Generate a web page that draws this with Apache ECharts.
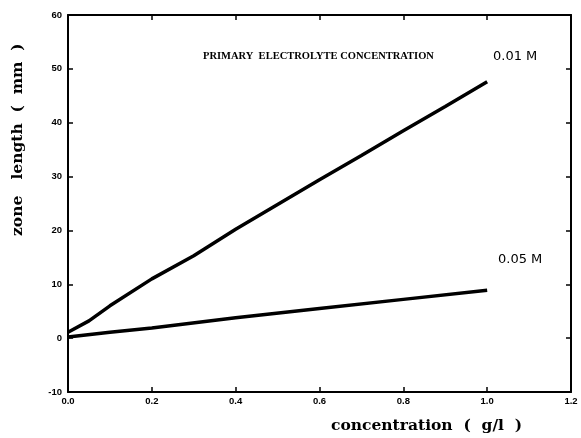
<!DOCTYPE html>
<html>
<head>
<meta charset="utf-8">
<script src="https://cdn.jsdelivr.net/npm/echarts@6/dist/echarts.min.js"></script>
<style>
  html, body { margin: 0; padding: 0; background: #fff; }
  #main { width: 581px; height: 438px; }
</style>
</head>
<body>
<div id="main"></div>
<script>
(function () {
var myChart = echarts.init(document.getElementById("main"));

// concentration (g/l) vs zone length (mm)
var conc01 = [[0, 1.1], [0.05, 3.2], [0.1, 6], [0.2, 11], [0.3, 15.3], [0.4, 20.2], [0.5, 24.8], [0.6, 29.4], [0.7, 33.9], [0.8, 38.5], [0.9, 43], [1.0, 47.6]];
var conc05 = [[0, 0.2], [0.1, 1.1], [0.2, 1.9], [0.4, 3.8], [0.6, 5.5], [0.8, 7.2], [1.0, 8.9]];

var xTicks = ["0.0", "0.2", "0.4", "0.6", "0.8", "1.0", "1.2"];
var seriesNames = ["0.01 M", "0.05 M"];
var titleText = "PRIMARY  ELECTROLYTE CONCENTRATION";

var tickFont = { color: '#000', fontSize: 9.5, fontFamily: 'Liberation Sans', fontWeight: 'bold' };

option = {
    backgroundColor: '#fff',
    animation: false,
    grid: { left: 68, right: 10, top: 15, bottom: 46 },
    graphic: [
        { type: 'text', x: 203, y: 51, style: { text: titleText, font: 'bold 10.5px "Liberation Serif"', fill: '#000' } },
        { type: 'text', x: 493, y: 50, style: { text: seriesNames[0], font: '13px "DejaVu Sans"', fill: '#000' } },
        { type: 'text', x: 498, y: 253, style: { text: seriesNames[1], font: '13px "DejaVu Sans"', fill: '#000' } },
        { type: 'text', x: 331, y: 418, style: { text: 'concentration  (  g/l  )', font: 'bold 15.5px "DejaVu Serif"', fill: '#000' } },
        { type: 'text', x: 10, y: 236, rotation: Math.PI / 2, style: { text: 'zone   length  (  mm  )', font: 'bold 15.5px "DejaVu Serif"', fill: '#000', verticalAlign: 'top' } }
    ],
    xAxis: [{
        type: 'value', min: 0, max: 1.2, interval: 0.2,
        axisLine: { show: true, onZero: false, lineStyle: { color: '#000', width: 2 } },
        axisTick: { show: true, inside: true, length: 5, lineStyle: { color: '#000', width: 1.5 } },
        axisLabel: Object.assign({ margin: 4, formatter: function (v) { return xTicks[Math.round(v / 0.2)]; } }, tickFont),
        splitLine: { show: false }
    }, {
        type: 'value', min: 0, max: 1.2, interval: 0.2, position: 'top',
        axisLine: { show: true, onZero: false, lineStyle: { color: '#000', width: 2 } },
        axisTick: { show: true, inside: true, length: 5, lineStyle: { color: '#000', width: 1.5 } },
        axisLabel: { show: false },
        splitLine: { show: false }
    }],
    yAxis: [{
        type: 'value', min: -10, max: 60, interval: 10,
        axisLine: { show: true, onZero: false, lineStyle: { color: '#000', width: 2 } },
        axisTick: { show: true, inside: true, length: 5, lineStyle: { color: '#000', width: 1.5 } },
        axisLabel: Object.assign({ margin: 6 }, tickFont),
        splitLine: { show: false }
    }, {
        type: 'value', min: -10, max: 60, interval: 10, position: 'right',
        axisLine: { show: true, onZero: false, lineStyle: { color: '#000', width: 2 } },
        axisTick: { show: true, inside: true, length: 5, lineStyle: { color: '#000', width: 1.5 } },
        axisLabel: { show: false },
        splitLine: { show: false }
    }],
    series: [{
        name: seriesNames[0], type: 'line', data: conc01, showSymbol: false,
        lineStyle: { color: '#000', width: 3.5 }
    }, {
        name: seriesNames[1], type: 'line', data: conc05, showSymbol: false,
        lineStyle: { color: '#000', width: 3.5 }
    }]
};

myChart.setOption(option);
window.addEventListener("resize", function () {
    myChart.resize();
});
})();
</script>
</body>
</html>
